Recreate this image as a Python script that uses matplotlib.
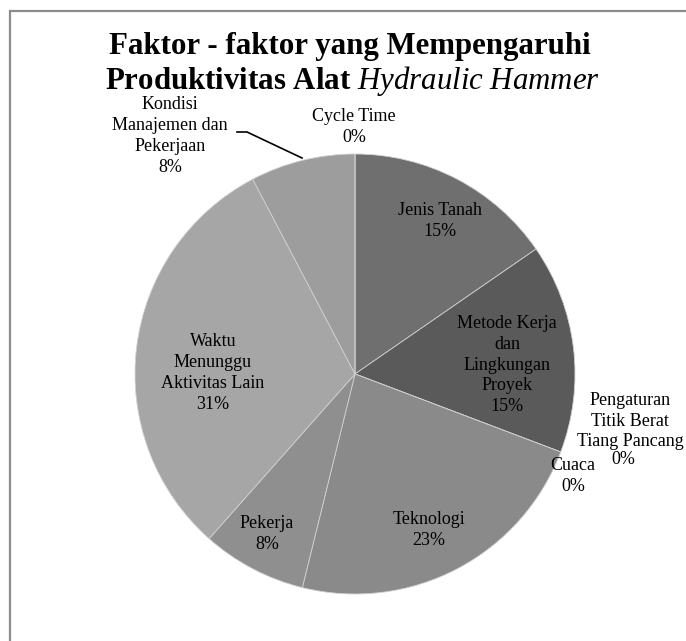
import matplotlib
matplotlib.use('Agg')
import matplotlib.pyplot as plt
from matplotlib.patches import Rectangle
from matplotlib.lines import Line2D

W, H = 686, 641

# data: counts out of 13 give the rounded percentages shown
labels = ['Jenis Tanah', 'Metode Kerja\ndan\nLingkungan\nProyek', 'Pengaturan\nTitik Berat\nTiang Pancang',
          'Cuaca', 'Teknologi', 'Pekerja', 'Waktu\nMenunggu\nAktivitas Lain',
          'Kondisi\nManajemen dan\nPekerjaan', 'Cycle Time']
values = [2, 2, 0, 0, 3, 1, 4, 1, 0]
colors = ['#6f6f6f', '#5a5a5a', '#7a7a7a', '#808080', '#8a8a8a', '#8f8f8f', '#a6a6a6', '#9d9d9d', '#aaaaaa']

# label anchor points in pixels (x, y of the text block center)
label_pos = [(440, 221), (507, 365), (630, 421), (573, 476), (429, 530), (267, 534),
             (213, 373), (170, 136), (354, 127)]

plt.rcParams['font.family'] = ['Liberation Serif', 'DejaVu Serif']
plt.rcParams['mathtext.fontset'] = 'custom'
plt.rcParams['mathtext.rm'] = 'Liberation Serif'
plt.rcParams['mathtext.it'] = 'Liberation Serif:italic'

fig = plt.figure(figsize=(W / 100, H / 100), dpi=100)


def fx(x):
    return x / W


def fy(y):
    return 1 - y / H


# outer chart frame (runs off the right and bottom edges)
fig.patches.append(Rectangle((fx(10), fy(700)), fx(720), fy(11) - fy(700), transform=fig.transFigure,
                             fill=False, edgecolor='#8c8c8c', linewidth=1.6))

cx, cy, r = 355, 374, 220
ax = fig.add_axes([fx(cx - r), fy(cy + r), 2 * r / W, 2 * r / H])
ax.pie(values, colors=colors, startangle=90, counterclock=False, radius=1,
       wedgeprops=dict(edgecolor='#d0d0d0', linewidth=0.6))
ax.set_xlim(-1, 1)
ax.set_ylim(-1, 1)
ax.axis('off')

total = sum(values)
for lab, v, (px, py) in zip(labels, values, label_pos):
    pct = f'{round(100 * v / total)}%'
    if lab.startswith('Pengaturan'):
        fig.text(fx(px), fy(py), lab, ha='center', va='center', fontsize=13, linespacing=1.3)
        fig.text(fx(623), fy(460), pct, ha='center', va='center', fontsize=13)
        continue
    fig.text(fx(px), fy(py), f'{lab}\n{pct}', ha='center', va='center', fontsize=13, linespacing=1.3)

# leader line for the Kondisi label
fig.lines.append(Line2D([fx(237), fx(247), fx(302)], [fy(132), fy(132), fy(158)],
                        transform=fig.transFigure, color='black', linewidth=1.2))

fig.text(fx(350), fy(54), 'Faktor - faktor yang Mempengaruhi', ha='center', va='baseline',
         fontsize=22.2, fontweight='bold')
fig.text(fx(352), fy(89), r'Produktivitas Alat $\mathit{Hydraulic\ Hammer}$', ha='center', va='baseline',
         fontsize=22.2, fontweight='bold')

fig.savefig('out.png', dpi=100)
